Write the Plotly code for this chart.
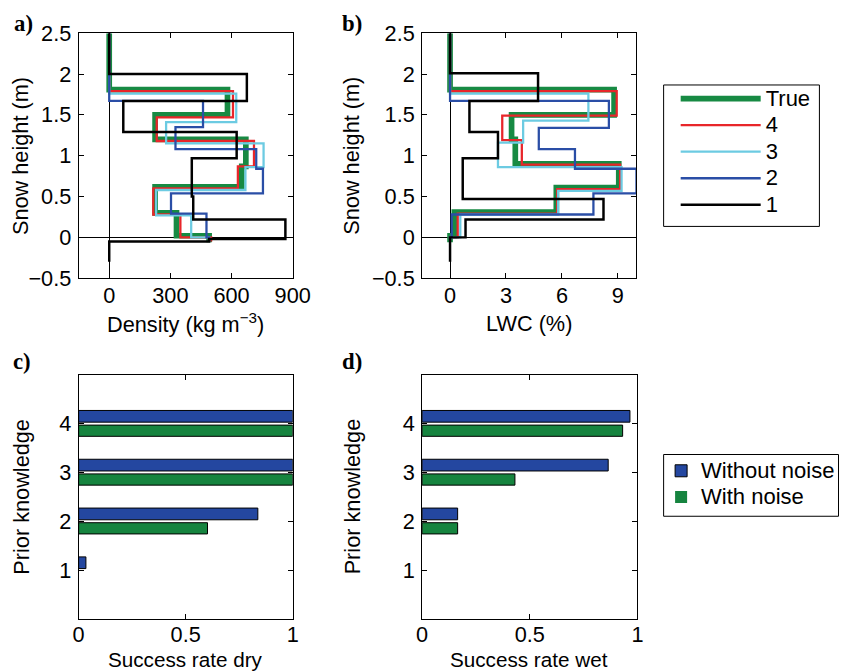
import plotly.graph_objects as go

# The page is photographed slightly scaled (~0.967) with the default 8px body margin,
# so the figure is laid out in reference pixels converted through that mapping.
S = 0.967
OX, OY = 8, 8
W = round(843 / S - 2 * OX)
H = round(672 / S - 2 * OY)
K = 1 / S

# ---------------- Data ----------------
dens_true_b = [2.5, 1.81, 1.5, 1.2, 0.87, 0.62, 0.3, 0.02, -0.06]
dens_true_v = [0, 580, 225, 670, 650, 225, 330, 490]
dens_4_b = [2.5, 1.79, 1.47, 1.18, 0.87, 0.6, 0.28, 0.0, -0.05]
dens_4_v = [0, 607, 233, 710, 631, 216, 349, 500]
dens_3_b = [2.5, 1.76, 1.41, 1.15, 0.86, 0.58, 0.27, 0.0, -0.05]
dens_3_v = [0, 623, 279, 757, 668, 230, 402, 490]
dens_2_b = [2.5, 1.67, 1.35, 1.08, 0.84, 0.54, 0.29, 0.0, -0.05]
dens_2_v = [0, 460, 325, 721, 754, 303, 477, 490]
dens_1_b = [2.5, 2.0, 1.67, 1.29, 0.97, 0.5, 0.22, -0.02, -0.05, -0.3]
dens_1_v = [0, 675, 69, 625, 405, 412, 864, 490, 0]

lwc_true_b = [2.5, 1.81, 1.5, 1.2, 0.9, 0.61, 0.31, 0.02, -0.06]
lwc_true_v = [0, 8.8, 3.3, 3.5, 9.05, 5.7, 0.23, 0]
lwc_4_b = [2.5, 1.79, 1.49, 1.19, 0.89, 0.59, 0.29, 0.0, -0.03]
lwc_4_v = [0, 8.94, 2.8, 3.85, 9.12, 5.75, 0.41, 0]
lwc_3_b = [2.5, 1.76, 1.43, 1.16, 0.86, 0.57, 0.28, 0.0, -0.03]
lwc_3_v = [0, 7.42, 3.92, 2.57, 9.2, 5.8, 0.55, 0]
lwc_2_b = [2.5, 1.67, 1.34, 1.08, 0.84, 0.54, 0.28, 0.0, -0.03]
lwc_2_v = [0, 8.52, 4.76, 6.7, 10.0, 7.69, 0.09, 0]
lwc_1_b = [2.5, 2.01, 1.67, 1.29, 0.97, 0.47, 0.22, 0.0, -0.3]
lwc_1_v = [0, 4.72, 1.04, 2.57, 0.68, 8.23, 0.83, 0]

series_names = ["True", "4", "3", "2", "1"]
series_colors = ["#178a43", "#e8262a", "#6ccbe2", "#2a4ea6", "#000000"]
series_widths = [5.5, 2.2, 2.2, 2.2, 2.4]

prior = [1, 2, 3, 4]
dry_without = [0.034, 0.837, 1.0, 1.0]
dry_with = [0.0, 0.602, 1.0, 1.0]
wet_without = [0.0, 0.165, 0.864, 0.965]
wet_with = [0.0, 0.165, 0.431, 0.931]
bar_names = ["Without noise", "With noise"]
bar_colors = ["#2447a0", "#16843f"]


def step(bounds, vals):
    xs, ys = [], []
    for i, v in enumerate(vals):
        xs += [v, v]
        ys += [bounds[i], bounds[i + 1]]
    return xs, ys


def big(t, px=22):
    return '<span style="font-size:%dpx">%s</span>' % (px, t)


def PX(x):  # reference pixel -> paper fraction
    return (x * K - OX) / W


def PY(y):
    return 1 - (y * K - OY) / H


fig = go.Figure()

dens = [(dens_true_b, dens_true_v), (dens_4_b, dens_4_v), (dens_3_b, dens_3_v),
        (dens_2_b, dens_2_v), (dens_1_b, dens_1_v)]
lwc = [(lwc_true_b, lwc_true_v), (lwc_4_b, lwc_4_v), (lwc_3_b, lwc_3_v),
       (lwc_2_b, lwc_2_v), (lwc_1_b, lwc_1_v)]

for k in range(5):
    x, y = step(*dens[k])
    fig.add_trace(go.Scatter(x=x, y=y, mode="lines", name=big(series_names[k]),
                             line=dict(color=series_colors[k], width=series_widths[k] * K),
                             xaxis="x", yaxis="y", legend="legend", showlegend=True))
for k in range(5):
    x, y = step(*lwc[k])
    fig.add_trace(go.Scatter(x=x, y=y, mode="lines", name=series_names[k],
                             line=dict(color=series_colors[k], width=series_widths[k] * K),
                             xaxis="x2", yaxis="y2", showlegend=False))

for (xa, ya, vw, vn, show) in [("x3", "y3", dry_without, dry_with, True),
                                ("x4", "y4", wet_without, wet_with, False)]:
    fig.add_trace(go.Bar(x=vw, y=prior, orientation="h", name=big(bar_names[0]),
                         marker=dict(color=bar_colors[0],
                                     line=dict(color="black", width=[1 if v > 0 else 0 for v in vw])),
                         offset=0.03, width=0.24, xaxis=xa, yaxis=ya,
                         legend="legend2", showlegend=show))
    fig.add_trace(go.Bar(x=vn, y=prior, orientation="h", name=big(bar_names[1]),
                         marker=dict(color=bar_colors[1],
                                     line=dict(color="black", width=[1 if v > 0 else 0 for v in vn])),
                         offset=-0.26, width=0.23, xaxis=xa, yaxis=ya,
                         legend="legend2", showlegend=show))

FONT = "Liberation Sans, Arial, sans-serif"
FS = 21 * K
tickfont = dict(family=FONT, size=FS, color="black")


def ax(domain, rng, tickvals, anchor, zeroline=False, ticktext=None, standoff=0):
    d = dict(domain=domain, range=rng, tickvals=tickvals, anchor=anchor,
             showline=True, linecolor="black", linewidth=1, mirror="ticks",
             ticks="inside", ticklen=5 * K, tickcolor="black", tickwidth=1,
             showgrid=False, tickfont=tickfont, ticklabelstandoff=standoff,
             zeroline=zeroline, zerolinecolor="black", zerolinewidth=1)
    if ticktext is not None:
        d["ticktext"] = ticktext
    return d


def dx(a, b):
    return [PX(a), PX(b)]


def dy(top, bot):
    return [PY(bot), PY(top)]


hticks = [-0.5, 0, 0.5, 1, 1.5, 2, 2.5]
hlabels = ["\u22120.5", "0", "0.5", "1", "1.5", "2", "2.5"]

fig.update_layout(
    width=W, height=H, margin=dict(l=0, r=0, t=0, b=0),
    paper_bgcolor="white", plot_bgcolor="white",
    barmode="overlay",
    font=dict(family=FONT, size=FS, color="black"),
    xaxis=ax(dx(80, 293), [-150, 900], [0, 300, 600, 900], "y", zeroline=True, standoff=-2),
    yaxis=ax(dy(29, 275), [-0.5, 2.5], hticks, "x", zeroline=True, ticktext=hlabels, standoff=2),
    xaxis2=ax(dx(421.7, 635), [-1.5, 10], [0, 3, 6, 9], "y2", zeroline=True, standoff=-2),
    yaxis2=ax(dy(29, 275), [-0.5, 2.5], hticks, "x2", zeroline=True, ticktext=hlabels, standoff=2),
    xaxis3=ax(dx(80, 293), [0, 1], [0, 0.5, 1], "y3", ticktext=["0", "0.5", "1"], standoff=-4),
    yaxis3=ax(dy(372, 617), [0, 5], [1, 2, 3, 4], "x3", standoff=2),
    xaxis4=ax(dx(421.7, 636), [0, 1], [0, 0.5, 1], "y4", ticktext=["0", "0.5", "1"], standoff=-4),
    yaxis4=ax(dy(372, 617), [0, 5], [1, 2, 3, 4], "x4", standoff=2),
    legend=dict(x=(697 - OX) / W, y=1 - (79 - OY) / H, xanchor="left", yanchor="top",
                borderwidth=0, bgcolor="rgba(0,0,0,0)",
                font=dict(family=FONT, size=18.1, color="black"),
                itemwidth=80, tracegroupgap=0),
    legend2=dict(x=(682 - OX) / W, y=1 - (465.5 - OY) / H, xanchor="left", yanchor="top",
                 borderwidth=0, bgcolor="rgba(0,0,0,0)",
                 font=dict(family=FONT, size=17.9, color="black")),
    shapes=[
        dict(type="rect", xref="paper", yref="paper", x0=PX(662), x1=PX(817),
             y0=PY(223), y1=PY(81), line=dict(color="black", width=1), layer="below"),
        dict(type="rect", xref="paper", yref="paper", x0=PX(662), x1=PX(836),
             y0=PY(514), y1=PY(452), line=dict(color="black", width=1), layer="below"),
    ],
)

annots = []
for (txt, cx, cy, rot, fs) in [
    ("Density (kg m<sup>\u22123</sup>)", 186, 320, 0, FS),
    ("LWC (%)", 528, 320, 0, FS),
    ("Success rate dry", 186, 657.5, 0, 20 * K),
    ("Success rate wet", 528, 657.5, 0, 20 * K),
    ("Snow height (m)", 22, 152, -90, FS),
    ("Snow height (m)", 352, 152, -90, FS),
    ("Prior knowledge", 23, 494, -90, FS),
    ("Prior knowledge", 352, 494, -90, FS),
]:
    annots.append(dict(text=txt, x=PX(cx), y=PY(cy), xref="paper", yref="paper",
                       xanchor="center", yanchor="middle", showarrow=False, textangle=rot,
                       font=dict(family=FONT, size=fs, color="black")))
for (txt, lx, ly) in [("a)", 14, 19), ("b)", 340, 19), ("c)", 13, 359), ("d)", 340, 359)]:
    annots.append(dict(text="<b>" + txt + "</b>", x=PX(lx), y=PY(ly), xref="paper", yref="paper",
                       xanchor="left", yanchor="middle", showarrow=False,
                       font=dict(family="Liberation Serif, Times New Roman, serif", size=22 * K,
                                 color="black")))
fig.update_layout(annotations=annots)

fig.write_html("out.html")
